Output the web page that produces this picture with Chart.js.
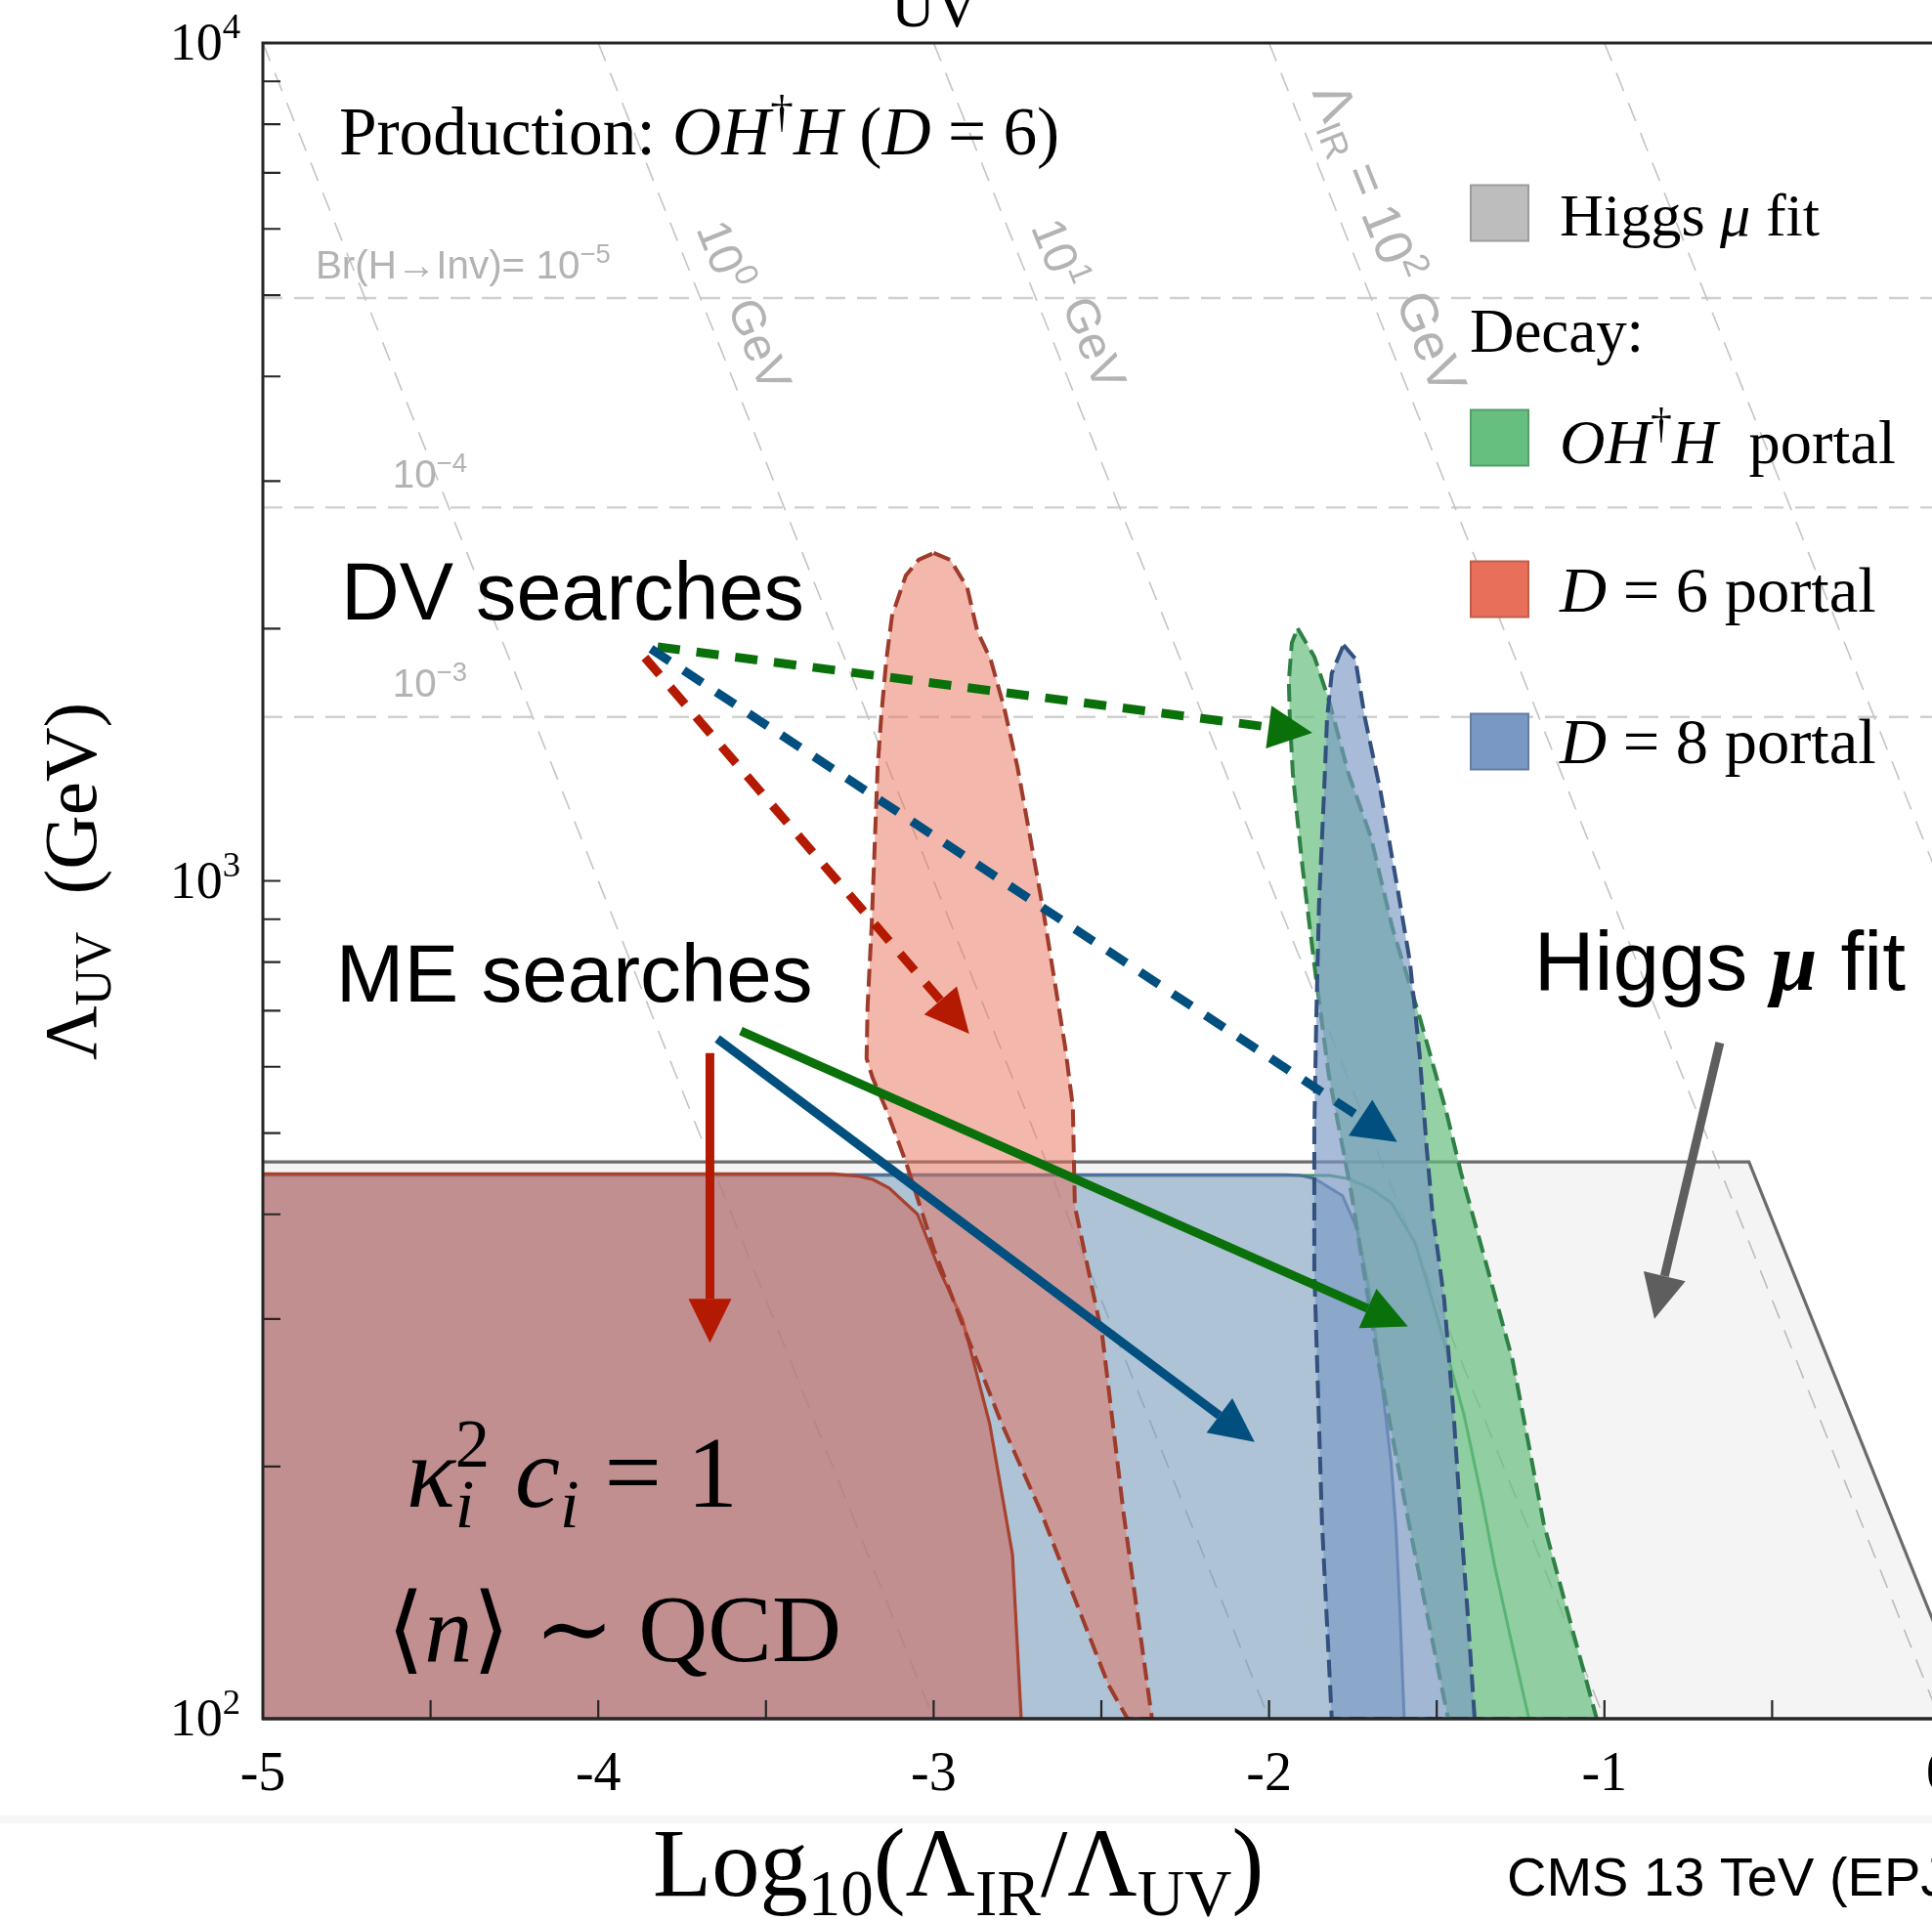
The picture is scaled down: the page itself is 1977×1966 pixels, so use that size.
<!DOCTYPE html>
<html>
<head>
<meta charset="utf-8">
<title>Λ_UV vs log10(Λ_IR/Λ_UV)</title>
<script src="https://cdn.jsdelivr.net/npm/chart.js@4.4.1/dist/chart.umd.min.js"></script>
<style>
  html, body { margin: 0; padding: 0; background: #fff; overflow: hidden; }
  body { width: 1977px; height: 1966px; position: relative; }
  #plot { position: absolute; left: 0; top: 0; }
</style>
</head>
<body>
<canvas id="plot" width="2100" height="1966" style="width:2100px;height:1966px"></canvas>
<script>
// ---------------- axes ----------------
const xRange = [-5, 0];
const yRange = [100, 10000];            // Λ_UV in GeV, log axis
const xTickValues = [-5, -4, -3, -2, -1, 0];
const xTickLabels = ['-5', '-4', '-3', '-2', '-1', '0'];
const xMinorStep = 0.5;
const yMajorTicks = [100, 1000, 10000];
const yTickExponents = ['2', '3', '4'];

// ---------------- guide lines ----------------
// lines of constant log10(Λ_IR / GeV)
const irContours = [-1, 0, 1, 2, 3];
// Br(H→Inv) contours, Λ_UV in GeV
const brContours = [4962, 2790, 1569];

// ---------------- Higgs μ fit exclusion ----------------
const higgsX = [-5, -0.569, 0.097];
const higgsY = [462, 462, 100];

// ---------------- ME searches (solid boundaries) ----------------
const meGreenX = [-5, -1.82, -1.763, -1.70, -1.636, -1.563, -1.491, -1.418, -1.364, -1.327, -1.28, -1.225];
const meGreenY = [445, 445, 441, 430, 413, 369, 294, 230, 182, 152, 125, 100];
const meBlueX  = [-5, -1.95, -1.905, -1.863, -1.781, -1.736, -1.700, -1.672, -1.636, -1.622, -1.610, -1.597];
const meBlueY  = [446, 446, 445, 441, 421, 383, 323, 268, 202, 170, 135, 100];
const meRedX   = [-5, -3.30, -3.22, -3.18, -3.133, -3.048, -2.981, -2.914, -2.833, -2.765, -2.739];
const meRedY   = [447, 447, 444, 440, 430, 400, 342, 300, 225, 157, 100];

// ---------------- DV searches (dashed boundaries) ----------------
const dvRedX = [-3.00, -2.95, -2.90, -2.87, -2.83, -2.79, -2.75, -2.716, -2.675, -2.637, -2.608, -2.585, -2.579,
                -2.497, -2.433, -2.349, -2.422, -2.480, -2.579, -2.681, -2.797, -2.90, -2.999, -3.083, -3.141,
                -3.182, -3.200, -3.197, -3.185, -3.176, -3.167, -3.156, -3.141, -3.124, -3.083, -3.045, -3.00];
const dvRedY = [2462, 2416, 2240, 1987, 1837, 1611, 1367, 1149, 931, 749, 634, 538, 409,
                286, 175, 100, 100, 110, 139, 177, 225, 286, 363, 462, 533,
                582, 614, 708, 883, 1097, 1367, 1577, 1837, 2073, 2314, 2416, 2462];
const dvGreenX = [-1.915, -1.865, -1.822, -1.763, -1.696, -1.632, -1.551, -1.472, -1.428, -1.355, -1.274, -1.181, -1.114,
                  -1.023, -1.466, -1.583, -1.676, -1.755, -1.822, -1.859, -1.880, -1.900, -1.918, -1.929, -1.938,
                  -1.941, -1.932, -1.915];
const dvGreenY = [2002, 1852, 1646, 1342, 1127, 878, 688, 531, 449, 352, 268, 171, 136,
                  100, 100, 171, 269, 425, 587, 761, 890, 1037, 1212, 1342, 1564,
                  1732, 1923, 2002];
const dvBlueX = [-1.778, -1.743, -1.714, -1.667, -1.618, -1.580, -1.551, -1.530, -1.513, -1.478, -1.449, -1.428,
                 -1.408, -1.387, -1.813, -1.842, -1.865, -1.865, -1.859, -1.851, -1.836, -1.827, -1.813, -1.778];
const dvBlueY = [1912, 1842, 1564, 1275, 985, 801, 621, 480, 403, 317, 229, 171,
                 134, 100, 100, 171, 343, 505, 688, 936, 1275, 1564, 1769, 1912];

// ---------------- annotation arrows ----------------
const arrowFrom   = [[-3.823, 1902], [-3.843, 1892], [-3.861, 1847], [-3.667, 623], [-3.645, 648], [-3.575, 662], [-0.656, 641]];
const arrowTo     = [[-1.871, 1502], [-1.618, 488],  [-2.894, 657],  [-3.667, 281], [-2.043, 214], [-1.586, 294], [-0.851, 300]];
const arrowColor  = ['#0a700a', '#014f7f', '#b41a02', '#b41a02', '#014f7f', '#0a700a', '#5e5e5e'];
const arrowDashed = [true, true, true, false, false, false, false];

// ---------------- palette ----------------
const C_GRAY  = [189, 189, 189];
const C_GREEN = [102, 191, 127];
const C_RED   = [232, 112, 90];
const C_BLUE  = [122, 152, 196];
const rgba = (c, a) => `rgba(${c[0]},${c[1]},${c[2]},${a})`;

const SERIF = '"Liberation Serif", "DejaVu Serif", serif';
const SANS  = '"Liberation Sans", Arial, "DejaVu Sans", sans-serif';
const MATH  = '"Liberation Serif", "DejaVu Serif", "DejaVu Sans", serif';
const GUIDE_TXT = '#b3b3b3';

// ---------------- rich text helpers ----------------
// run = [text, flags]; flags: i italic, b bold, ^ superscript, _ subscript,
// 0 stacked with the next run (the pair advances by the wider of the two),
// s sans, S serif
function runFont(fl, size, fam) {
  const small = fl.includes('^') || fl.includes('_');
  const s = small ? size * 0.68 : size;
  const f = fl.includes('s') ? SANS : (fl.includes('S') ? SERIF : fam);
  return (fl.includes('i') ? 'italic ' : '') + (fl.includes('b') ? 'bold ' : '') + s.toFixed(1) + 'px ' + f;
}
function layoutRuns(ctx, runs, size, fam) {
  // returns the x offset of every run and the total advance
  const xs = [];
  let cx = 0, held = 0;
  for (const [t, fl] of runs) {
    ctx.font = runFont(fl, size, fam);
    const w = ctx.measureText(t).width;
    xs.push(cx);
    if (fl.includes('0')) { held = Math.max(held, w); continue; }
    cx += Math.max(w, held);
    held = 0;
  }
  return { xs, total: cx + held };
}
function drawRich(ctx, runs, x, y, o) {
  let size = o.size;
  if (o.width) size *= o.width / layoutRuns(ctx, runs, size, o.fam).total;
  const lay = layoutRuns(ctx, runs, size, o.fam);
  const start = x - (o.align === 'center' ? lay.total / 2 : o.align === 'right' ? lay.total : 0);
  ctx.fillStyle = o.color || '#000';
  ctx.textAlign = 'left';
  ctx.textBaseline = 'alphabetic';
  runs.forEach(([t, fl], i) => {
    ctx.font = runFont(fl, size, o.fam);
    const dy = fl.includes('^') ? -0.4 * size : (fl.includes('_') ? 0.2 * size : 0);
    ctx.fillText(t, start + lay.xs[i], y + dy);
  });
}

// in-plot labels, anchored in data coordinates (left end of baseline)
const notes = [
  { runs: [['Production: ', ''], ['O', 'i'], ['H', 'i'], ['†', '^'], ['H', 'i'], [' (', ''], ['D', 'i'], [' = 6)', '']],
    at: [-4.773, 7362], width: 737, size: 64, fam: SERIF },
  { runs: [['DV searches', '']], at: [-4.767, 2051], width: 474, size: 84, fam: SANS },
  { runs: [['ME searches', '']], at: [-4.782, 718], width: 488, size: 84, fam: SANS },
  { runs: [['Higgs ', ''], ['μ', 'biS'], [' fit', '']], at: [-1.210, 741], width: 380, size: 82, fam: SANS },
  { runs: [['κ', 'i'], ['2', '^0'], ['i', '_i'], [' ', ''], ['c', 'i'], ['i', '_i'], [' = 1', '']],
    at: [-4.572, 179], width: 339, size: 82, fam: SERIF },
  { runs: [['⟨', ''], ['n', 'i'], ['⟩', ''], [' ∼ ', ''], ['QCD', '']], at: [-4.630, 117.2], width: 465, size: 96, fam: MATH },
  { runs: [['Br(H→Inv)= 10', ''], ['−5', '^']], at: [-4.843, 5234], width: 302, size: 40, fam: SANS, color: GUIDE_TXT },
  { runs: [['10', ''], ['−4', '^']], at: [-4.613, 2947], width: 76, size: 40, fam: SANS, color: GUIDE_TXT },
  { runs: [['10', ''], ['−3', '^']], at: [-4.613, 1659], width: 76, size: 40, fam: SANS, color: GUIDE_TXT },
];

// labels written along the Λ_IR contours: contour, log10(Λ_UV) where the label starts
const irLabels = [
  { k: 0, logStart: 3.769, runs: [['10', ''], ['0', '^'], [' GeV', '']], width: 183 },
  { k: 1, logStart: 3.771, runs: [['10', ''], ['1', '^'], [' GeV', '']], width: 183 },
  { k: 2, logStart: 3.932, runs: [['Λ', ''], ['IR', '_'], [' = 10', ''], ['2', '^'], [' GeV', '']], width: 337 },
];

// legend entries
const legendRows = [
  { color: C_GRAY,  cy: 218, base: 241, runs: [['Higgs ', ''], ['μ', 'i'], [' fit', '']], width: 266 },
  { color: null,    cy: 0,   base: 360, runs: [['Decay:', '']], width: 178 },
  { color: C_GREEN, cy: 448, base: 474, runs: [['O', 'i'], ['H', 'i'], ['†', '^'], ['H', 'i'], ['  portal', '']], width: 344 },
  { color: C_RED,   cy: 603, base: 626, runs: [['D', 'i'], [' = 6 portal', '']], width: 324 },
  { color: C_BLUE,  cy: 759, base: 781, runs: [['D', 'i'], [' = 8 portal', '']], width: 324 },
];

// ---------------- datasets ----------------
const pts = (xs, ys) => xs.map((x, i) => ({ x, y: ys[i] }));
function region(xs, ys, opts) {
  return Object.assign({
    data: pts(xs, ys), showLine: true, pointRadius: 0, pointHoverRadius: 0,
    borderWidth: 3, fill: false, tension: 0, borderCapStyle: 'butt'
  }, opts);
}

const datasets = [];
irContours.forEach(k => datasets.push({
  data: [{ x: k - 4, y: 10000 }, { x: k - 2, y: 100 }], showLine: true, pointRadius: 0,
  borderColor: '#c4c4c4', borderWidth: 1.6, borderDash: [20, 13], order: 100
}));
brContours.forEach(v => datasets.push({
  data: [{ x: xRange[0], y: v }, { x: xRange[1], y: v }], showLine: true, pointRadius: 0,
  borderColor: '#d0d0d0', borderWidth: 2.4, borderDash: [20, 12], order: 100
}));
datasets.push(region(higgsX, higgsY, { borderColor: '#6b6b6b', borderWidth: 3.2, regionColor: 'rgba(0,0,0,0.045)', closeThrough: [[-5, 100]], order: 90 }));
datasets.push(region(meGreenX, meGreenY, { borderColor: '#3f9a5c', borderWidth: 3, regionColor: 'rgba(100,180,120,0.06)', closeThrough: [[-5, 100]], order: 80 }));
datasets.push(region(meBlueX, meBlueY, { borderColor: '#4d6d9f', borderWidth: 3, regionColor: 'rgba(111,150,189,0.5)', closeThrough: [[-5, 100]], order: 70 }));
datasets.push(region(meRedX, meRedY, { borderColor: '#a8412d', borderWidth: 3.2, regionColor: 'rgba(208,108,98,0.6)', closeThrough: [[-5, 100]], order: 60 }));
datasets.push(region(dvRedX, dvRedY, { borderColor: '#9e3b2a', borderWidth: 4, borderDash: [18, 8], regionColor: rgba(C_RED, 0.5), order: 50 }));
datasets.push(region(dvGreenX, dvGreenY, { borderColor: '#2f8045', borderWidth: 4, borderDash: [18, 8], regionColor: rgba(C_GREEN, 0.7), order: 40 }));
datasets.push(region(dvBlueX, dvBlueY, { borderColor: '#33507e', borderWidth: 4, borderDash: [18, 8], regionColor: rgba(C_BLUE, 0.65), order: 30 }));

// ---------------- plugins ----------------
// fills each region polygon right before its outline is stroked
const regionFill = {
  id: 'regionFill',
  beforeDatasetDraw(chart, args) {
    const ds = chart.data.datasets[args.index];
    if (!ds.regionColor) return;
    const { ctx, chartArea: a, scales } = chart;
    ctx.save();
    ctx.beginPath();
    ctx.rect(a.left, a.top, a.right - a.left, a.bottom - a.top);
    ctx.clip();
    ctx.beginPath();
    args.meta.data.forEach((p, i) => (i ? ctx.lineTo(p.x, p.y) : ctx.moveTo(p.x, p.y)));
    (ds.closeThrough || []).forEach(([x, y]) => ctx.lineTo(scales.x.getPixelForValue(x), scales.y.getPixelForValue(y)));
    ctx.closePath();
    ctx.fillStyle = ds.regionColor;
    ctx.fill();
    ctx.restore();
  }
};

function drawArrow(ctx, x0, y0, x1, y1, color, dashed) {
  const lw = 9, headL = 45, headW = 44;
  const ang = Math.atan2(y1 - y0, x1 - x0);
  const bx = x1 - headL * Math.cos(ang), by = y1 - headL * Math.sin(ang);
  ctx.save();
  ctx.strokeStyle = color;
  ctx.lineWidth = lw;
  ctx.lineCap = 'butt';
  ctx.setLineDash(dashed ? [23, 17] : []);
  ctx.beginPath();
  ctx.moveTo(x0, y0);
  ctx.lineTo(bx, by);
  ctx.stroke();
  ctx.setLineDash([]);
  ctx.fillStyle = color;
  ctx.beginPath();
  ctx.moveTo(x1, y1);
  ctx.lineTo(bx + headW / 2 * Math.sin(ang), by - headW / 2 * Math.cos(ang));
  ctx.lineTo(bx - headW / 2 * Math.sin(ang), by + headW / 2 * Math.cos(ang));
  ctx.closePath();
  ctx.fill();
  ctx.restore();
}

const decorations = {
  id: 'decorations',
  afterDatasetsDraw(chart) {
    const { ctx, chartArea: a, scales } = chart;
    const sx = v => scales.x.getPixelForValue(v);
    const sy = v => scales.y.getPixelForValue(v);
    const W = chart.width;

    // arrows
    arrowFrom.forEach((f, i) => {
      drawArrow(ctx, sx(f[0]), sy(f[1]), sx(arrowTo[i][0]), sy(arrowTo[i][1]), arrowColor[i], arrowDashed[i]);
    });

    // frame
    ctx.save();
    ctx.strokeStyle = '#262626';
    ctx.lineWidth = 3;
    ctx.beginPath();
    ctx.moveTo(a.left, a.top); ctx.lineTo(W, a.top);
    ctx.moveTo(a.left, a.top - 1.5); ctx.lineTo(a.left, a.bottom + 1.5);
    ctx.stroke();
    ctx.lineWidth = 3.6;
    ctx.beginPath();
    ctx.moveTo(a.left, a.bottom); ctx.lineTo(W, a.bottom);
    ctx.stroke();

    // inward ticks
    ctx.lineWidth = 2.2;
    ctx.beginPath();
    for (let d = 2; d < 4; d++) {
      for (let m = 1; m <= 9; m++) {
        const py = sy(m * Math.pow(10, d));
        ctx.moveTo(a.left, py); ctx.lineTo(a.left + 18, py);
      }
    }
    for (let v = xRange[0] + xMinorStep; v <= xRange[1] + 1e-9; v += xMinorStep) {
      const px = sx(v);
      ctx.moveTo(px, a.bottom); ctx.lineTo(px, a.bottom - 19);
    }
    ctx.stroke();
    ctx.restore();

    // tick labels
    yMajorTicks.forEach((v, i) => {
      drawRich(ctx, [['10', ''], [yTickExponents[i], '^']], a.left - 23, sy(v) + 17, { size: 54, fam: SERIF, align: 'right' });
    });
    xTickValues.forEach((v, i) => {
      drawRich(ctx, [[xTickLabels[i], '']], sx(v), a.bottom + 73, { size: 56, fam: SERIF, align: 'center' });
    });

    // labels along the Λ_IR contours
    irLabels.forEach(l => {
      const x0 = sx(l.k - 4), y0 = sy(10000), x1 = sx(l.k - 2), y1 = sy(100);
      const ang = Math.atan2(y1 - y0, x1 - x0);
      const px = sx(l.k - l.logStart), py = sy(Math.pow(10, l.logStart));
      ctx.save();
      ctx.translate(px, py);
      ctx.rotate(ang);
      drawRich(ctx, l.runs, 0, -22, { size: 44, fam: SANS, width: l.width, color: GUIDE_TXT });
      ctx.restore();
    });

    // free labels
    notes.forEach(n => {
      drawRich(ctx, n.runs, sx(n.at[0]), sy(n.at[1]), { size: n.size, fam: n.fam, width: n.width, color: n.color });
    });

    // legend
    legendRows.forEach(r => {
      if (r.color) {
        ctx.fillStyle = rgba(r.color, 1);
        ctx.fillRect(1505, r.cy - 28.5, 59, 57);
        ctx.strokeStyle = rgba(r.color.map(c => c * 0.82), 1);
        ctx.lineWidth = 2;
        ctx.strokeRect(1505, r.cy - 28.5, 59, 57);
        drawRich(ctx, r.runs, 1596, r.base, { size: 62, fam: SERIF, width: r.width });
      } else {
        drawRich(ctx, r.runs, 1504, r.base, { size: 62, fam: SERIF, width: r.width });
      }
    });

    // axis titles
    ctx.save();
    ctx.translate(98, 902);
    ctx.rotate(-Math.PI / 2);
    drawRich(ctx, [['Λ', ''], ['UV', '_'], ['  (GeV)', '']], 0, 0, { size: 80, fam: SERIF, width: 366, align: 'center' });
    ctx.restore();
    drawRich(ctx, [['Log', ''], ['10', '_'], ['(', ''], ['Λ', ''], ['IR', '_'], ['/', ''], ['Λ', ''], ['UV', '_'], [')', '']],
      668, 1940, { size: 98, fam: SERIF, width: 625 });

    // subscript of the title line above the frame
    drawRich(ctx, [['UV', '']], 912, 27, { size: 62, fam: SERIF });

    // footer
    ctx.fillStyle = '#f6f6f6';
    ctx.fillRect(0, 1858, W, 8);
    drawRich(ctx, [['CMS 13 TeV (EPJC)', '']], 1542, 1940, { size: 56, fam: SANS });
  }
};

new Chart(document.getElementById('plot'), {
  type: 'scatter',
  data: { datasets },
  options: {
    responsive: false,
    animation: false,
    devicePixelRatio: 1,
    events: [],
    layout: { padding: { left: 269, right: 115, top: 44, bottom: 207 } },
    plugins: { legend: { display: false }, tooltip: { enabled: false } },
    scales: {
      x: { type: 'linear', min: xRange[0], max: xRange[1], display: false },
      y: { type: 'logarithmic', min: yRange[0], max: yRange[1], display: false }
    }
  },
  plugins: [regionFill, decorations]
});
</script>
</body>
</html>
